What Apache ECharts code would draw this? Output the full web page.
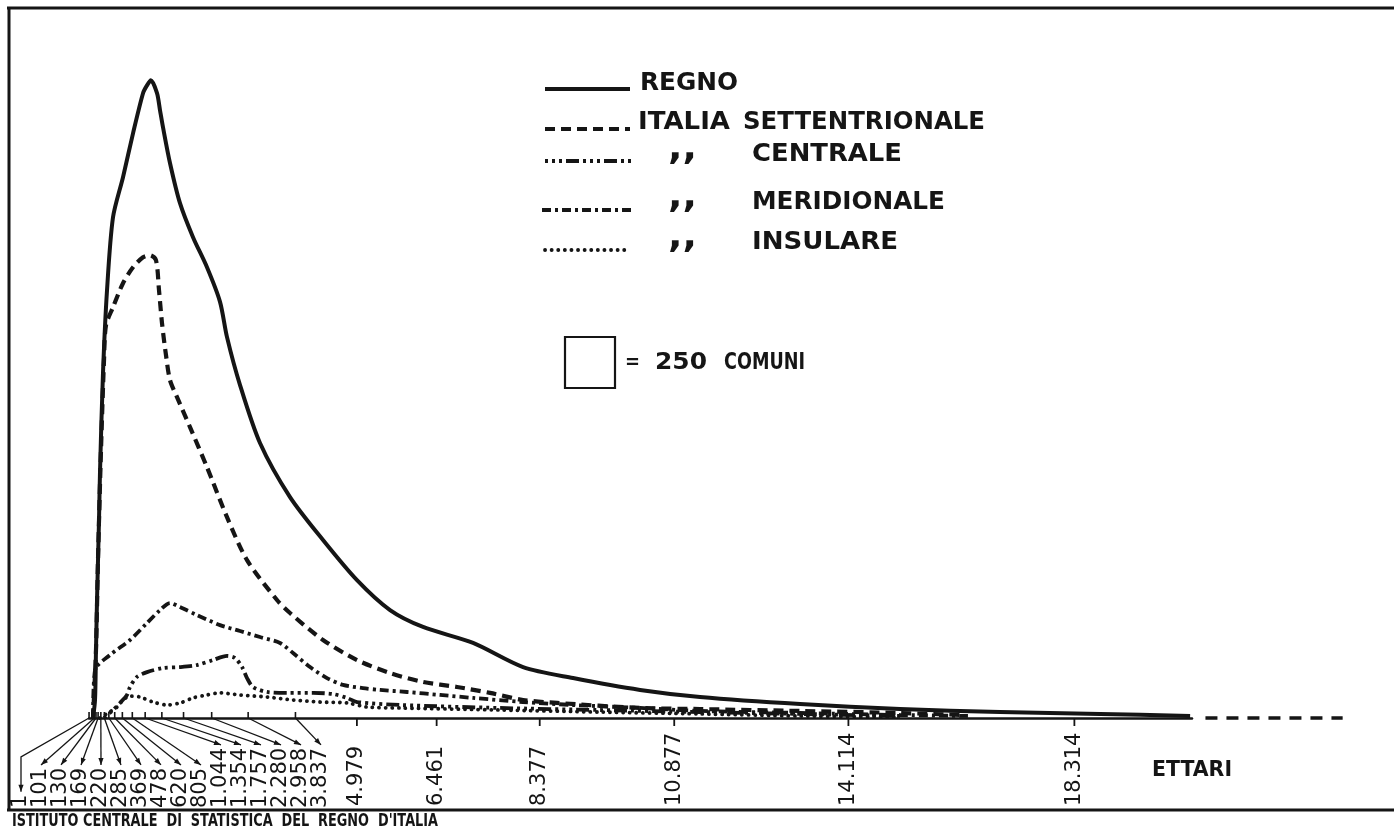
<!DOCTYPE html>
<html><head><meta charset="utf-8">
<script src="https://cdn.jsdelivr.net/npm/echarts@6/dist/echarts.min.js"></script>
<style>html,body{margin:0;padding:0;background:#fff}#c{width:1394px;height:831px}</style>
</head><body><div id="c"></div>
<script>
// ---------- DATA (ettari on x, comuni per 1000 ettari on y) ----------
const tickValues = [1,101,130,169,220,285,369,478,620,805,1044,1354,1757,2280,2958,3837,4979,6461,8377,10877,14114,18314];
const tickLabels = ['1','101','130','169','220','285','369','478','620','805','1.044','1.354','1.757','2.280','2.958','3.837','4.979','6.461','8.377','10.877','14.114','18.314'];
const SMALL_COUNT = 16;

const regno = [[74,0],[112,97],[130,366],[149,635],[186,1065],[204,1318],[260,1856],[335,2303],[446,2695],[632,2911],[818,3147],[1004,3363],[1078,3405],[1150,3432],[1264,3363],[1320,3271],[1375,3180],[1506,2986],[1691,2771],[1933,2588],[2193,2426],[2435,2240],[2565,2050],[2807,1792],[3178,1480],[3736,1189],[4349,958],[4981,742],[5595,581],[6208,490],[7138,404],[8067,274],[8996,215],[10242,151],[11357,113],[13216,75],[15074,48],[16933,32],[18792,22],[20465,11]];
const settentrionale = [[74,0],[130,366],[167,850],[223,1442],[279,1926],[316,2114],[446,2211],[632,2340],[818,2426],[1004,2480],[1134,2491],[1245,2464],[1301,2303],[1357,2125],[1431,1953],[1506,1818],[1636,1727],[1877,1566],[2193,1350],[2565,1081],[2937,850],[3494,635],[3736,565],[4349,420],[4981,312],[5595,242],[6208,194],[6840,167],[7454,135],[8067,97],[8699,81],[10242,54],[11357,48],[13216,38],[15074,27],[16283,16]];
const centrale = [[279,0],[446,43],[576,81],[706,124],[762,167],[892,221],[1078,247],[1375,269],[1691,274],[2007,285],[2305,312],[2565,334],[2714,323],[2844,274],[2937,215],[3048,167],[3309,140],[3680,135],[4164,135],[4535,129],[4796,108],[4981,86],[5781,70],[7639,54],[9498,43],[11357,32],[13216,22],[15074,11]];
const meridionale = [[74,0],[112,258],[390,339],[762,420],[1078,511],[1320,581],[1506,619],[1691,597],[2007,554],[2435,500],[2807,468],[3178,436],[3550,404],[3792,350],[4108,274],[4424,215],[4721,178],[5093,161],[5409,151],[5911,140],[6524,124],[7138,108],[8067,86],[8996,70],[10242,54],[11357,38],[13216,27],[15074,16],[16375,11]];
const insulare = [[204,0],[353,27],[520,59],[632,97],[762,118],[948,113],[1190,86],[1450,70],[1691,81],[1933,108],[2193,124],[2435,135],[2807,124],[3309,113],[3792,97],[4294,86],[4796,81],[5167,59],[5781,54],[7639,43],[9498,32],[11357,22],[13216,11],[15074,5]];
const coda = [[20750,0,23300,0]];

// ---------- STYLE ----------
const INK = '#151515';
const ST = {
  regno: {type:'solid', width:4},
  sett:  {type:[10,6], width:4.2},
  cent:  {type:[3,4,3,4,3,4,13,4], width:3.8},
  merid: {type:[9,4,3,4], width:3.8},
  insul: {type:[0.1,6.5], width:3.8, cap:'round'}
};
const LABEL_FONT = '21px "DejaVu Sans"';

const mctx = document.createElement('canvas').getContext('2d');
function measure(t, font){ mctx.font = font; return mctx.measureText(t).width; }
function fitText(t, x, y, font, w){
  return {type:'text', x:x, y:y, scaleX: w/measure(t,font), silent:true,
    style:{text:t, font:font, fill:INK, textAlign:'left', textVerticalAlign:'middle', verticalAlign:'middle'}};
}
function lineSeries(name, data, st){
  return {name:name, type:'line', data:data, symbol:'none', showSymbol:false, smooth:0.28, clip:false, silent:true,
    lineStyle:{color:INK, width:st.width, type:st.type, cap:st.cap||'butt', join:'round'}, z:3};
}

// ---------- GRAPHICS (frame, legend, notes) ----------
const graphics = [];
graphics.push({type:'line', silent:true, shape:{x1:7,y1:8,x2:1394,y2:8}, style:{stroke:INK,lineWidth:3}});
graphics.push({type:'line', silent:true, shape:{x1:9,y1:7,x2:9,y2:811}, style:{stroke:INK,lineWidth:3}});
graphics.push({type:'line', silent:true, shape:{x1:7,y1:810,x2:1394,y2:810}, style:{stroke:INK,lineWidth:3}});
graphics.push(fitText("ISTITUTO CENTRALE  DI  STATISTICA  DEL  REGNO  D'ITALIA", 12, 822, 'bold 17px "DejaVu Sans"', 426));
graphics.push(fitText('ETTARI', 1152, 770, 'bold 22px "DejaVu Sans"', 80));

const LEG_FONT = 'bold 24px "DejaVu Sans"';
const legendRows = [
  {st:ST.regno, x1:545, x2:630, ly:89,  ty:84,  ditto:false, pieces:[['REGNO',640,98]]},
  {st:ST.sett,  x1:545, x2:630, ly:129, ty:123, ditto:false, pieces:[['ITALIA',638,92],['SETTENTRIONALE',743,242]]},
  {st:ST.cent,  x1:545, x2:632, ly:161, ty:155, ditto:true,  pieces:[['CENTRALE',752,150]]},
  {st:ST.merid, x1:542, x2:632, ly:210, ty:203, ditto:true,  pieces:[['MERIDIONALE',752,193]]},
  {st:ST.insul, x1:545, x2:630, ly:250, ty:243, ditto:true,  pieces:[['INSULARE',752,146]]}
];
legendRows.forEach(r => {
  graphics.push({type:'line', silent:true, shape:{x1:r.x1,y1:r.ly,x2:r.x2,y2:r.ly},
    style:{stroke:INK, lineWidth:r.st.width, lineDash: Array.isArray(r.st.type)?r.st.type:null, lineCap:r.st.cap||'butt'}});
  r.pieces.forEach(p => graphics.push(fitText(p[0], p[1], r.ty, LEG_FONT, p[2])));
  if (r.ditto) graphics.push(fitText(',,', 668, r.ty-5, 'bold 36px "DejaVu Sans"', 29));
});
graphics.push({type:'rect', silent:true, shape:{x:565,y:337,width:50,height:51}, style:{fill:'none', stroke:INK, lineWidth:2.2}});
graphics.push(fitText('=', 625, 363, 'bold 20px "DejaVu Sans"', 15));
graphics.push(fitText('250', 655, 363, 'bold 23px "DejaVu Sans"', 52));
graphics.push(fitText('COMUNI', 724, 363, 'bold 23px "DejaVu Sans"', 81));

// ---------- AXIS MARKS (ticks, arrows, rotated labels) ----------
const axisMarks = tickValues.map((v,i) => [v, i, 0]);
function renderMark(params, api){
  const v = api.value(0), i = api.value(1);
  const p = api.coord([v, 0]);
  const label = tickLabels[i];
  const w = measure(label, LABEL_FONT);
  const ch = [];
  let tx, bottom;
  if (i < SMALL_COUNT){
    tx = 21 + 20*i; bottom = 808;
    const endY = bottom - w - 3;
    ch.push({type:'line', shape:{x1:p[0],y1:p[1],x2:p[0],y2:p[1]-6}, style:{stroke:INK,lineWidth:1.6}});
    let pts, prev;
    if (endY > 775){ pts = [[p[0],p[1]],[tx,757],[tx,endY]]; prev = [tx,757]; }
    else { pts = [[p[0],p[1]],[tx,endY]]; prev = [p[0],p[1]]; }
    ch.push({type:'polyline', shape:{points:pts}, style:{stroke:INK, lineWidth:1.3, fill:null}});
    let dx = tx - prev[0], dy = endY - prev[1];
    const L = Math.sqrt(dx*dx+dy*dy); dx/=L; dy/=L;
    const bx = tx - dx*7, by = endY - dy*7;
    ch.push({type:'polygon', shape:{points:[[tx,endY],[bx - dy*2.6, by + dx*2.6],[bx + dy*2.6, by - dx*2.6]]}, style:{fill:INK}});
  } else {
    tx = p[0]; bottom = 806;
    ch.push({type:'line', shape:{x1:p[0],y1:p[1],x2:p[0],y2:p[1]+8}, style:{stroke:INK,lineWidth:1.8}});
  }
  ch.push({type:'text', x:tx, y:bottom, rotation:Math.PI/2,
    style:{text:label, font:LABEL_FONT, fill:INK, textAlign:'left', textVerticalAlign:'middle', verticalAlign:'middle'}});
  return {type:'group', children:ch};
}
function renderCoda(params, api){
  const a = api.coord([api.value(0), api.value(1)]);
  const b = api.coord([api.value(2), api.value(3)]);
  return {type:'line', shape:{x1:a[0], y1:a[1], x2:b[0], y2:b[1]},
    style:{stroke:INK, lineWidth:3.5, lineDash:[12,9]}};
}

const chart = echarts.init(document.getElementById('c'), null, {renderer:'canvas'});
chart.setOption({
  animation:false,
  backgroundColor:'#ffffff',
  grid:{left:89, right:202, top:12, bottom:113},
  xAxis:{type:'value', min:0, max:20500, axisLine:{show:true, onZero:false, lineStyle:{color:INK, width:2.5}},
    axisTick:{show:false}, axisLabel:{show:false}, splitLine:{show:false}},
  yAxis:{type:'value', min:0, max:3800, show:false},
  series:[
    lineSeries('REGNO', regno, ST.regno),
    lineSeries('ITALIA SETTENTRIONALE', settentrionale, ST.sett),
    lineSeries('CENTRALE', centrale, ST.cent),
    lineSeries('MERIDIONALE', meridionale, ST.merid),
    lineSeries('INSULARE', insulare, ST.insul),
    {type:'custom', coordinateSystem:'cartesian2d', data:coda, encode:{x:[0,2], y:[1,3]}, clip:false, silent:true, z:4,
      renderItem:renderCoda},
    {type:'custom', coordinateSystem:'cartesian2d', data:axisMarks, encode:{x:0, y:2}, clip:false, silent:true, z:5,
      renderItem:renderMark}
  ],
  graphic:graphics
});
</script>
</body></html>
